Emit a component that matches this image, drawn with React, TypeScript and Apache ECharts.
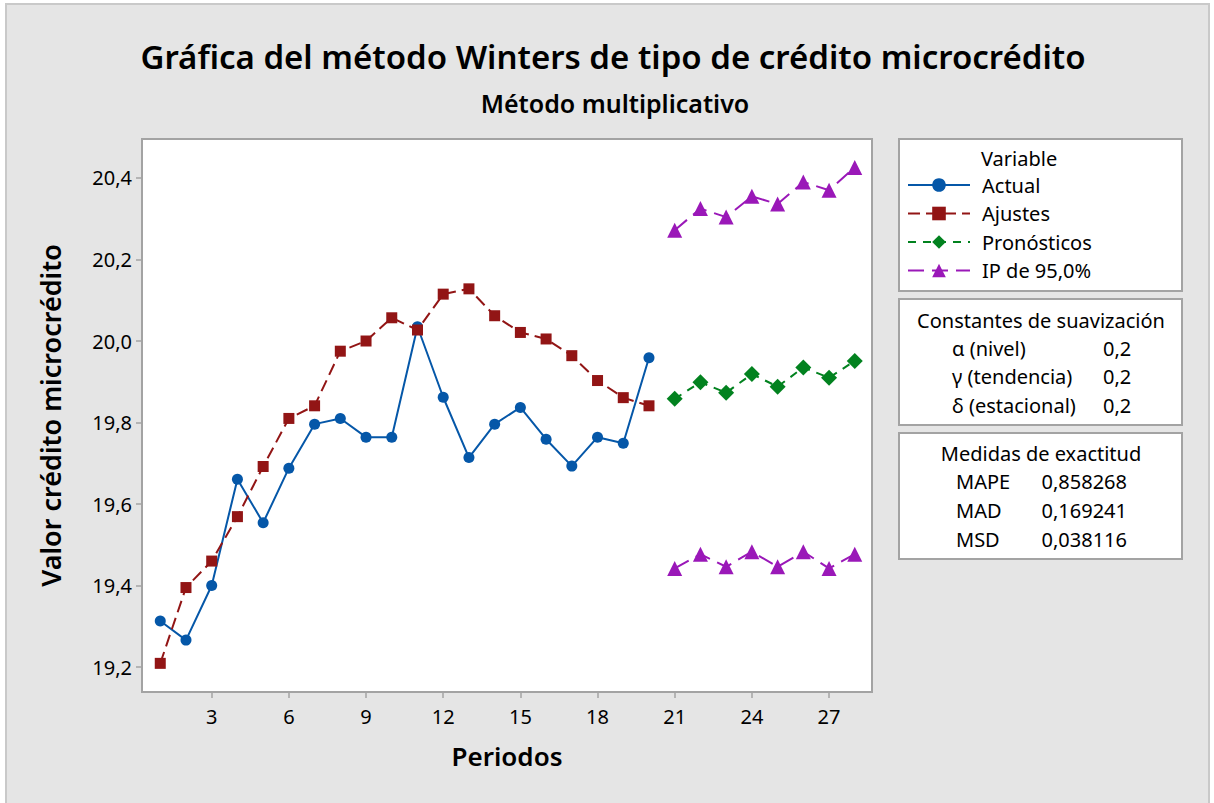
import React, { useEffect, useRef } from "react";
import * as echarts from "echarts";

const periodsFit = [1, 2, 3, 4, 5, 6, 7, 8, 9, 10, 11, 12, 13, 14, 15, 16, 17, 18, 19, 20];
const periodsFc = [21, 22, 23, 24, 25, 26, 27, 28];
const actual = [19.313, 19.266, 19.4, 19.661, 19.554, 19.688, 19.796, 19.81, 19.764, 19.764, 20.035, 19.862, 19.714, 19.796, 19.837, 19.759, 19.693, 19.764, 19.749, 19.959];
const ajustes = [19.209, 19.395, 19.46, 19.569, 19.692, 19.81, 19.841, 19.975, 20.0, 20.057, 20.027, 20.115, 20.128, 20.062, 20.021, 20.005, 19.964, 19.903, 19.861, 19.841];
const pronosticos = [19.858, 19.899, 19.873, 19.919, 19.888, 19.935, 19.91, 19.951];
const ipUpper = [20.272, 20.325, 20.304, 20.355, 20.336, 20.39, 20.37, 20.426];
const ipLower = [19.442, 19.477, 19.446, 19.483, 19.446, 19.483, 19.442, 19.477];
const xTicks = [3, 6, 9, 12, 15, 18, 21, 24, 27];
const yTicks = [19.2, 19.4, 19.6, 19.8, 20.0, 20.2, 20.4];
const smoothing = [
  ["α (nivel)", "0,2"],
  ["γ (tendencia)", "0,2"],
  ["δ (estacional)", "0,2"],
];
const accuracy = [
  ["MAPE", "0,858268"],
  ["MAD", "0,169241"],
  ["MSD", "0,038116"],
];

const FONT = "'Noto Sans', 'Open Sans', sans-serif";
const BLUE = "#0557a8";
const RED = "#921515";
const GREEN = "#02821f";
const PURPLE = "#9a18b8";

const zip = (xs: number[], ys: number[]) => xs.map((x, i) => [x, ys[i]]);

export default function App() {
  const ref = useRef<HTMLDivElement>(null);
  useEffect(() => {
    if (!ref.current) return;
    const chart = echarts.init(ref.current, undefined, { renderer: "svg" });
    const textStyle = { fontFamily: FONT, fontSize: 20, fill: "#000" };
    const graphic: any[] = [
      { type: "rect", z: -10, shape: { x: 6, y: 4, width: 1203, height: 800 }, style: { fill: "#e5e5e5", stroke: "#c9c9c9", lineWidth: 2 }, silent: true },
      { type: "rect", shape: { x: 899, y: 139, width: 283, height: 152 }, style: { fill: "#fff", stroke: "#a3a3a3", lineWidth: 2 } },
      { type: "rect", shape: { x: 899, y: 299, width: 283, height: 126 }, style: { fill: "#fff", stroke: "#a3a3a3", lineWidth: 2 } },
      { type: "rect", shape: { x: 899, y: 433, width: 283, height: 126 }, style: { fill: "#fff", stroke: "#a3a3a3", lineWidth: 2 } },
      { type: "text", x: 981, y: 158, style: { ...textStyle, text: "Variable", verticalAlign: "middle" }, z: 10 },
      { type: "text", x: 1041, y: 320, style: { ...textStyle, text: "Constantes de suavización", align: "center", verticalAlign: "middle" }, z: 10 },
      { type: "text", x: 1041, y: 453, style: { ...textStyle, text: "Medidas de exactitud", align: "center", verticalAlign: "middle" }, z: 10 },
    ];
    smoothing.forEach((r, i) => {
      const y = 348 + i * 28.5;
      graphic.push({ type: "text", x: 952, y, z: 10, style: { ...textStyle, text: r[0], verticalAlign: "middle" } });
      graphic.push({ type: "text", x: 1103, y, z: 10, style: { ...textStyle, text: r[1], verticalAlign: "middle" } });
    });
    accuracy.forEach((r, i) => {
      const y = 481 + i * 29;
      graphic.push({ type: "text", x: 956, y, z: 10, style: { ...textStyle, text: r[0], verticalAlign: "middle" } });
      graphic.push({ type: "text", x: 1127, y, z: 10, style: { ...textStyle, text: r[1], align: "right", verticalAlign: "middle" } });
    });

    const option: any = {
      animation: false,
      backgroundColor: "transparent",
      textStyle: { fontFamily: FONT },
      title: [
        { text: "Gráfica del método Winters de tipo de crédito microcrédito", left: 608, top: 35, textAlign: "center", textStyle: { fontFamily: FONT, fontSize: 33, fontWeight: 600, color: "#000" } },
        { text: "Método multiplicativo", left: 610, top: 85, textAlign: "center", textStyle: { fontFamily: FONT, fontSize: 25, fontWeight: 600, color: "#000" } },
      ],
      grid: { left: 142, top: 139, right: 342, bottom: 111, show: true, backgroundColor: "#fff", borderColor: "#a3a3a3", borderWidth: 2 },
      legend: {
        orient: "vertical",
        left: 907,
        top: 175,
        padding: 0,
        itemWidth: 62,
        itemHeight: 17,
        itemGap: 8.5,
        data: ["Actual", "Ajustes", "Pronósticos", "IP de 95,0%"],
        textStyle: { fontFamily: FONT, fontSize: 20, lineHeight: 20, color: "#000", padding: [0, 0, 0, 7] },
      },
      xAxis: {
        type: "value",
        min: 0.29,
        max: 28.67,
        name: "Periodos",
        nameLocation: "middle",
        nameGap: 51,
        nameTextStyle: { fontFamily: FONT, fontSize: 26, fontWeight: 600, color: "#000" },
        axisLine: { show: false },
        splitLine: { show: false },
        axisTick: { show: true, length: 6, customValues: xTicks, lineStyle: { color: "#a3a3a3", width: 1.5 } },
        axisLabel: { customValues: xTicks, fontFamily: FONT, fontSize: 20, color: "#000", margin: 14 },
      },
      yAxis: {
        type: "value",
        min: 19.1387,
        max: 20.4957,
        name: "Valor crédito microcrédito",
        nameLocation: "middle",
        nameGap: 78,
        nameTextStyle: { fontFamily: FONT, fontSize: 27, fontWeight: 600, color: "#000" },
        axisLine: { show: false },
        splitLine: { show: false },
        axisTick: { show: true, length: 6, customValues: yTicks, lineStyle: { color: "#a3a3a3", width: 1.5 } },
        axisLabel: { customValues: yTicks, fontFamily: FONT, fontSize: 20, color: "#000", margin: 10, formatter: (v: number) => v.toFixed(1).replace(".", ",") },
      },
      series: [
        { name: "Actual", type: "line", data: zip(periodsFit, actual), symbol: "circle", symbolSize: 11, color: BLUE, lineStyle: { color: BLUE, width: 2 }, itemStyle: { color: BLUE } },
        { name: "Ajustes", type: "line", data: zip(periodsFit, ajustes), symbol: "rect", symbolSize: 11, color: RED, lineStyle: { color: RED, width: 2, type: [12, 6] }, itemStyle: { color: RED } },
        { name: "Pronósticos", type: "line", data: zip(periodsFc, pronosticos), symbol: "diamond", symbolSize: 16, color: GREEN, lineStyle: { color: GREEN, width: 2, type: [8, 7] }, itemStyle: { color: GREEN } },
        { name: "IP de 95,0%", type: "line", data: zip(periodsFc, ipUpper), symbol: "triangle", symbolSize: 15, color: PURPLE, lineStyle: { color: PURPLE, width: 2, type: [16, 8] }, itemStyle: { color: PURPLE } },
        { name: "IP de 95,0%", type: "line", data: zip(periodsFc, ipLower), symbol: "triangle", symbolSize: 15, color: PURPLE, lineStyle: { color: PURPLE, width: 2, type: [16, 8] }, itemStyle: { color: PURPLE } },
      ],
      graphic,
    };
    chart.setOption(option);
    return () => chart.dispose();
  }, []);
  return <div ref={ref} style={{ position: "fixed", left: 0, top: 0, width: 1214, height: 803, background: "#fff" }} />;
}
